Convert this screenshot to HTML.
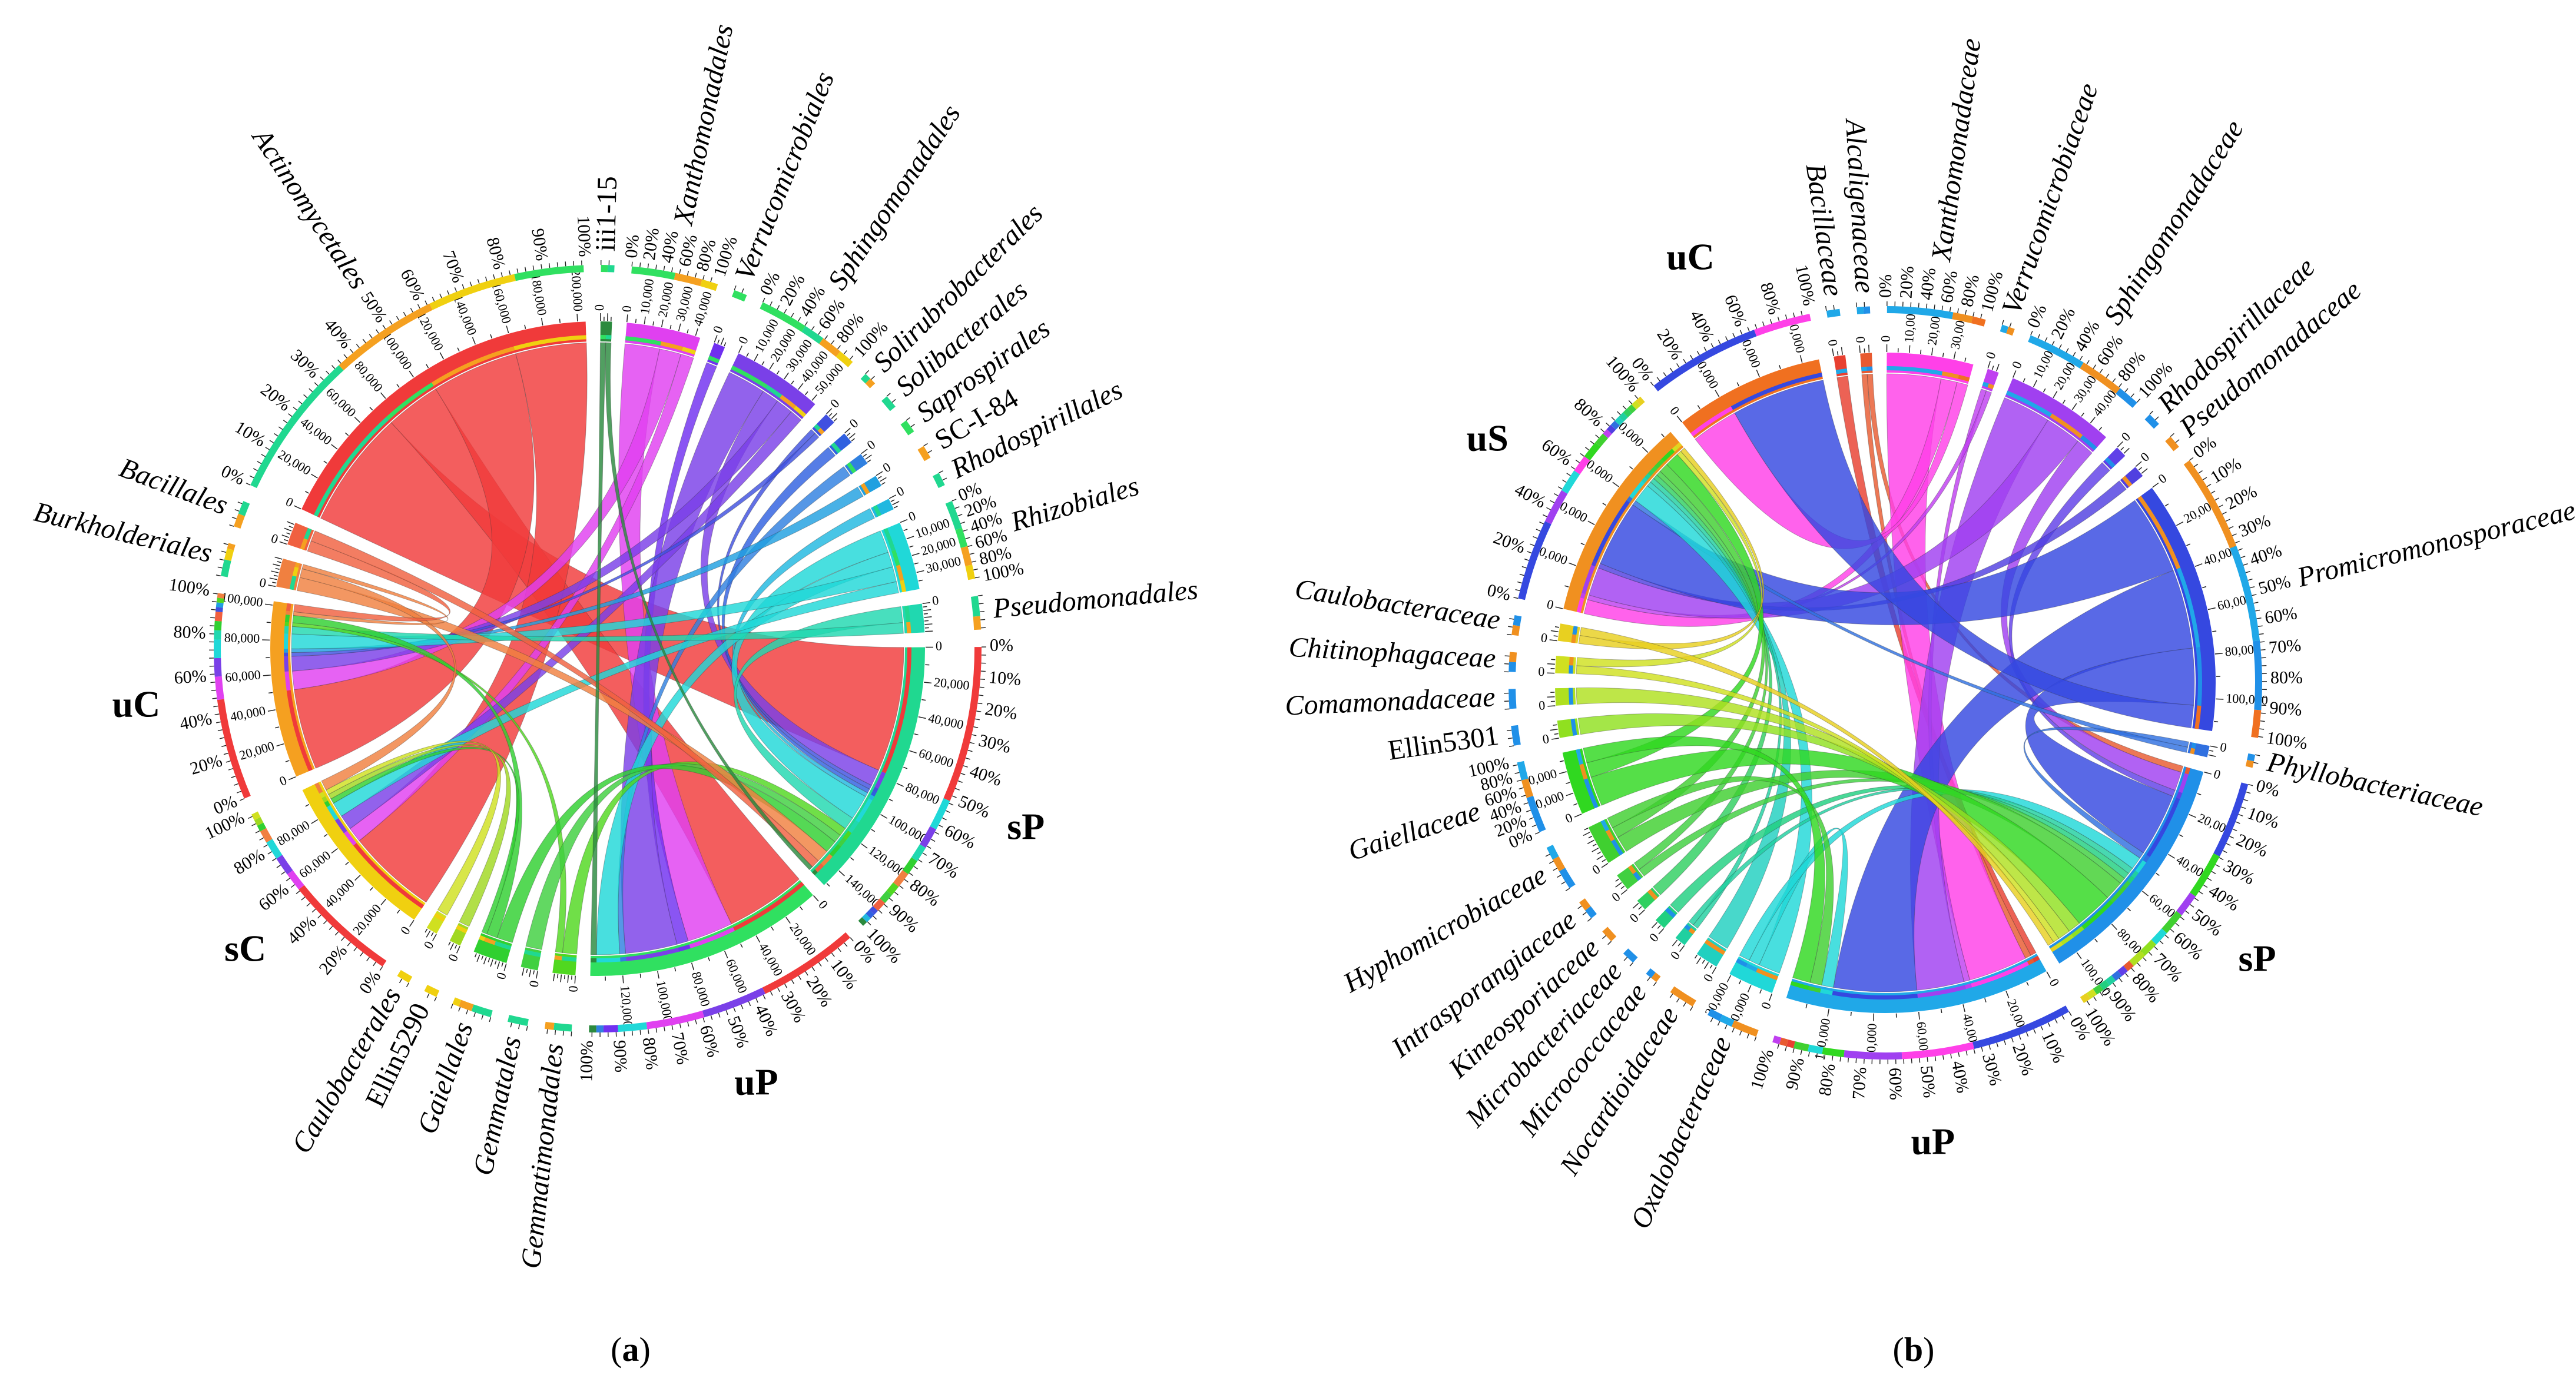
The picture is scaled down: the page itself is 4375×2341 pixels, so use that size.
<!DOCTYPE html>
<html><head><meta charset="utf-8"><style>
html,body{margin:0;padding:0;background:#fff;}
svg{display:block;}
text{font-family:"Liberation Serif",serif;}
</style></head><body>
<svg id="svg" width="4375" height="2341" viewBox="0 0 4375 2341" xmlns="http://www.w3.org/2000/svg">
<g id="chartA"></g>
<g id="chartB"></g>
<text x="1071" y="2312" font-size="58" text-anchor="middle">(<tspan font-weight="bold">a</tspan>)</text>
<text x="3250" y="2312" font-size="58" text-anchor="middle">(<tspan font-weight="bold">b</tspan>)</text>
</svg>
<script>
// ---- Chart (a) data ----
const aNames = ["iii1-15","Xanthomonadales","Verrucomicrobiales","Sphingomonadales","Solirubrobacterales","Solibacterales","Saprospirales","SC-I-84","Rhodospirillales","Rhizobiales","Pseudomonadales","sP","uP","Gemmatimonadales","Gemmatales","Gaiellales","Ellin5290","Caulobacterales","sC","uC","Burkholderiales","Bacillales","Actinomycetales"];
const aValues = [2,13,2,16,2,2,2,2,2,12,5,46,42,4,3,6,2,2,30,31,5,4,62];
const aColors = ["#2b8a3e","#e040f0","#7030f0","#7a40e8","#4050e0","#3060e0","#3080e0","#20a0e0","#20b8e0","#20d8d8","#20d8b0","#20d890","#30e060","#50d820","#40d040","#30d030","#a0d820","#d0e020","#f0d010","#f5a020","#f08040","#f06040","#f03a3a"];
const aSrc = ["Actinomycetales","Actinomycetales","Actinomycetales","Actinomycetales","Xanthomonadales","Xanthomonadales","Xanthomonadales","Verrucomicrobiales","Sphingomonadales","Sphingomonadales","Sphingomonadales","Sphingomonadales","Solirubrobacterales","Solirubrobacterales","Solibacterales","Saprospirales","SC-I-84","Rhodospirillales","Rhizobiales","Rhizobiales","Rhizobiales","Rhizobiales","Pseudomonadales","Pseudomonadales","Gemmatimonadales","Gemmatimonadales","Gemmatales","Gaiellales","Gaiellales","Gaiellales","Ellin5290","Caulobacterales","Burkholderiales","Burkholderiales","Burkholderiales","Bacillales","Bacillales","iii1-15","iii1-15"];
const aTgt = ["sP","uP","uC","sC","uP","uC","sC","uP","uP","sP","uC","sC","sP","uC","sP","uP","uC","sP","sP","uP","uC","sC","sP","uC","sP","uC","sP","sP","uC","sC","sC","sC","sP","sC","uC","uC","sP","uP","sP"];
const aVal = [30,14,22,18,8,5,3,2,9,4,4,3,1,1,1,1,1,1,6,4,4,3,3,2,2,1,2,3,2,1,1,1,3,2,1,2,2,1,1];
const aGroups = ["sP","uP","sC","uC"];

// ---- Chart (b) data ----
const bNames = ["Bacillaceae","Alcaligenaceae","Xanthomonadaceae","Verrucomicrobiaceae","Sphingomonadaceae","Rhodospirillaceae","Pseudomonadaceae","Promicromonosporaceae","Phyllobacteriaceae","sP","uP","Oxalobacteraceae","Nocardioidaceae","Micrococcaceae","Microbacteriaceae","Kineosporiaceae","Intrasporangiaceae","Hyphomicrobiaceae","Gaiellaceae","Ellin5301","Comamonadaceae","Chitinophagaceae","Caulobacteraceae","uS","uC"];
const bValues = [2,2,15,2,19,2,2,44,2,42,46,8,4,2,2,2,3,7,11,3,3,3,3,36,26];
const bColors = ["#e84030","#e85a30","#ff40e8","#c040f0","#a040f0","#6040e8","#5040e0","#3548e0","#3070e0","#2090e8","#20a8e8","#20d8d8","#20d0c0","#20d0a0","#20d080","#30d060","#40d040","#40d030","#30d820","#90e020","#b0e020","#d0e020","#e8d020","#f09020","#f07020"];
const bSrc = ["Bacillaceae","Alcaligenaceae","Alcaligenaceae","Xanthomonadaceae","Xanthomonadaceae","Xanthomonadaceae","Verrucomicrobiaceae","Verrucomicrobiaceae","Sphingomonadaceae","Sphingomonadaceae","Sphingomonadaceae","Rhodospirillaceae","Pseudomonadaceae","Promicromonosporaceae","Promicromonosporaceae","Promicromonosporaceae","Promicromonosporaceae","Phyllobacteriaceae","Phyllobacteriaceae","Oxalobacteraceae","Oxalobacteraceae","Oxalobacteraceae","Nocardioidaceae","Micrococcaceae","Micrococcaceae","Microbacteriaceae","Kineosporiaceae","Intrasporangiaceae","Intrasporangiaceae","Hyphomicrobiaceae","Hyphomicrobiaceae","Hyphomicrobiaceae","Gaiellaceae","Gaiellaceae","Gaiellaceae","Ellin5301","Comamonadaceae","Chitinophagaceae","Chitinophagaceae","Caulobacteraceae","Caulobacteraceae"];
const bTgt = ["uP","uP","sP","uP","uS","uC","uP","uS","uP","uS","sP","sP","uS","uS","uP","sP","uC","sP","uS","uS","uP","sP","uS","uS","sP","sP","uS","sP","uS","sP","uS","uP","sP","uS","uP","sP","sP","sP","uS","uS","sP"];
const bVal = [1,1,1,10,3,2,1,1,8,6,3,1,1,14,14,10,4,1,1,4,2,2,1,1,1,1,1,1,1,3,2,2,6,3,3,2,2,1,1,1,1];
const bGroups = ["sP","uP","uS","uC"];

const NS="http://www.w3.org/2000/svg";
function mk(tag, attrs, parent){const e=document.createElementNS(NS,tag);for(const k in attrs)e.setAttribute(k,attrs[k]);parent.appendChild(e);return e;}
function pt(cx,cy,r,deg){const t=deg*Math.PI/180;return [cx+r*Math.sin(t),cy-r*Math.cos(t)];}
function arcPath(cx,cy,r1,r2,a0,a1){
  const p0=pt(cx,cy,r2,a0),p1=pt(cx,cy,r2,a1),p2=pt(cx,cy,r1,a1),p3=pt(cx,cy,r1,a0);
  const lg=(a1-a0)>180?1:0;
  return `M${p0[0]},${p0[1]}A${r2},${r2} 0 ${lg} 1 ${p1[0]},${p1[1]}L${p2[0]},${p2[1]}A${r1},${r1} 0 ${lg} 0 ${p3[0]},${p3[1]}Z`;
}

function drawChart(g, cx, cy, R, ringR, groupR, names, values, colors, src, tgt, val, groups, start, gap, unit){
  const n=names.length;
  const sum=values.reduce((a,b)=>a+b,0);
  const k=(360-gap*n)/sum;
  const seg={};
  let a=start;
  names.forEach((nm,i)=>{seg[nm]={a0:a,a1:a+values[i]*k,color:colors[i],i:i,v:values[i],tot:0,cur:0,parts:[]};a+=values[i]*k+gap;});
  src.forEach((s,j)=>{seg[s].tot+=val[j];seg[tgt[j]].tot+=val[j];});
  const chords=[];
  src.forEach((s,j)=>{
    const S=seg[s],T=seg[tgt[j]];
    const ws=(S.a1-S.a0)*val[j]/S.tot, wt=(T.a1-T.a0)*val[j]/T.tot;
    const s0=S.a0+S.cur; S.cur+=ws;
    const t0=T.a0+T.cur; T.cur+=wt;
    S.parts.push([ws,T.color]);T.parts.push([wt,S.color]);
    chords.push({s0:s0,s1:s0+ws,t0:t0,t1:t0+wt,color:S.color,name:s+"-"+tgt[j]});
  });
  const cg=mk("g",{},g);
  
  
  chords.forEach(c=>{
    const A0=pt(cx,cy,R,c.s0),A1=pt(cx,cy,R,c.s1),B0=pt(cx,cy,R,c.t0),B1=pt(cx,cy,R,c.t1);
    const d=`M${A0[0]},${A0[1]}A${R},${R} 0 0 1 ${A1[0]},${A1[1]}Q${cx},${cy} ${B0[0]},${B0[1]}A${R},${R} 0 0 1 ${B1[0]},${B1[1]}Q${cx},${cy} ${A0[0]},${A0[1]}Z`;
    const p=mk("path",{d:d,fill:c.color,"fill-opacity":"0.82",stroke:"#333","stroke-width":"1","stroke-opacity":"0.35"},cg);
    
    
  });
  names.forEach((nm)=>{
    const S=seg[nm];
    const span=S.a1-S.a0;
    const isG=groups.indexOf(nm)>=0;
    const sg=mk("g",{},g);
    
    
    if(S.tot>0){
      mk("path",{d:arcPath(cx,cy,R+2,R+36,S.a0,S.a1),fill:S.color},sg);
      let c=S.a0;
      S.parts.forEach(p=>{mk("path",{d:arcPath(cx,cy,R+6,R+13,c,c+p[0]),fill:p[1]},sg);c+=p[0];});
      const total=S.v*unit;
      const tickV=total>60000?10000:(total>20000?5000:2000);
      const labStep=span*2*tickV/total;
      let ti=0;
      for(let v=0;v<=total;v+=tickV,ti++){
        const t=S.a0+span*v/total;
        const major=ti%2===0;
        const q0=pt(cx,cy,R+37,t),q1=pt(cx,cy,R+(major?50:44),t);
        mk("line",{x1:q0[0],y1:q0[1],x2:q1[0],y2:q1[1],stroke:"#222","stroke-width":"1.5"},sg);
        if(major && (labStep>2.6 || v===0)){
          const q=pt(cx,cy,R+54,t);
          const m=(t%360+360)%360, right=m<180;
          const tx=mk("text",{x:q[0],y:q[1],"font-size":"22","text-anchor":right?"start":"end","dominant-baseline":"middle",transform:`rotate(${right?m-90:m+90},${q[0]},${q[1]})`},sg);
          tx.textContent=v.toLocaleString('en-US');
          
          
        }
      }
    }
    const tot=S.parts.reduce((x,p)=>x+p[0],0)||1;
    let c=S.a0;
    const pr=[...S.parts].sort((x,y)=>y[0]-x[0]);
    pr.forEach(p=>{const w=p[0]/tot*span;mk("path",{d:arcPath(cx,cy,ringR,ringR+12,c,c+w),fill:p[1]},sg);c+=w;});
    if(S.parts.length===0) mk("path",{d:arcPath(cx,cy,ringR,ringR+12,S.a0,S.a1),fill:S.color},sg);
    for(let t=S.a0;t<=S.a1+0.01;t+=1.2){
      const q0=pt(cx,cy,ringR+12,t),q1=pt(cx,cy,ringR+20,t);
      mk("line",{x1:q0[0],y1:q0[1],x2:q1[0],y2:q1[1],stroke:"#222","stroke-width":"1.4"},sg);
    }
    const pstep=span>40?10:(span>10?20:0);
    if(pstep){
      for(let pc=0;pc<=100;pc+=pstep){
        const t=S.a0+span*pc/100;
        const q=pt(cx,cy,ringR+26,t);
        const m=(t%360+360)%360, right=m<180;
        const tx=mk("text",{x:q[0],y:q[1],"font-size":"30","text-anchor":right?"start":"end","dominant-baseline":"middle",transform:`rotate(${right?m-90:m+90},${q[0]},${q[1]})`},sg);
        tx.textContent=pc+"%";
        
        
      }
    }
    const mid=(S.a0+S.a1)/2;
    if(isG){
      const q=pt(cx,cy,groupR,mid);
      const tx=mk("text",{x:q[0],y:q[1],"font-size":"64","font-weight":"bold","text-anchor":"middle","dominant-baseline":"middle"},sg);
      tx.textContent=nm;
      
      
    } else {
      const rr=pstep?ringR+95:ringR+35;
      const q=pt(cx,cy,rr,mid);
      const m=(mid%360+360)%360;
      const right=m<180;
      const it=/^(iii|SC-|Ellin)/.test(nm);
      const tx=mk("text",{x:q[0],y:q[1],"font-size":"48","font-style":it?"normal":"italic","text-anchor":right?"start":"end","dominant-baseline":"middle",transform:`rotate(${right?m-90:m+90},${q[0]},${q[1]})`},sg);
      tx.textContent=nm;
      
      
    }
  });
}
drawChart(document.getElementById('chartA'),1015,1102,520,640,790,aNames,aValues,aColors,aSrc,aTgt,aVal,aGroups,0.5,2.6,3300);
drawChart(document.getElementById('chartB'),3202,1160,525,628,790,bNames,bValues,bColors,bSrc,bTgt,bVal,bGroups,-9,2.6,2600);
</script>
</body></html>
